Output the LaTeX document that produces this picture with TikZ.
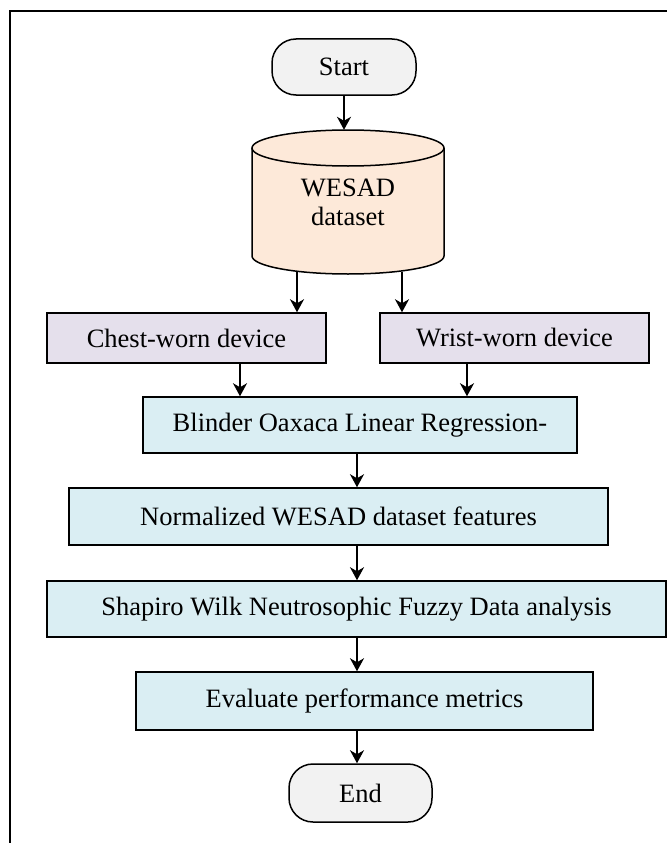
\documentclass[tikz,border=0pt]{standalone}
\usepackage{fontspec}
\setmainfont{Liberation Serif}
\usetikzlibrary{arrows.meta}
\definecolor{termfill}{HTML}{F2F2F2}
\definecolor{dbfill}{HTML}{FDE9D9}
\definecolor{devfill}{HTML}{E5E0EC}
\definecolor{procfill}{HTML}{DAEEF3}
\tikzset{
  txt/.style={font=\fontsize{26.5pt}{29pt}\selectfont, align=center, inner sep=0pt},
  terminal/.style={txt, draw, line width=1.5pt, fill=termfill, rounded corners=24pt},
  devbox/.style={txt, draw, line width=1.5pt, fill=devfill},
  procbox/.style={txt, draw, line width=1.5pt, fill=procfill},
  arr/.style={line width=1.7pt, -{Stealth[length=13pt,width=14pt,inset=4pt]}},
}
\begin{document}
\begin{tikzpicture}[x=1pt,y=-1pt]
\useasboundingbox (0,0) rectangle (667,843);
% outer frame
\draw[line width=1.5pt] (10,843) -- (10,11) -- (667,11);

% terminals
\node[terminal, minimum width=144pt, minimum height=56pt] (start) at (344,67) {Start};
\node[terminal, minimum width=143pt, minimum height=58pt] (end) at (360.5,793) {End};

% cylinder
\fill[dbfill] (252,148) -- (252,256)
  arc[start angle=180,end angle=360,x radius=96pt,y radius=18pt]
  -- (444,148)
  arc[start angle=0,end angle=180,x radius=96pt,y radius=18pt] -- cycle;
\draw[line width=1.5pt] (252,148) -- (252,256)
  arc[start angle=180,end angle=360,x radius=96pt,y radius=18pt]
  -- (444,148);
\draw[line width=1.5pt] (348,148) ellipse [x radius=96pt, y radius=18pt];
\node[txt, minimum width=192pt, minimum height=144pt] (cyl) at (348,202) {WESAD\\dataset};

% devices
\node[devbox, minimum width=279pt, minimum height=50pt] (chest) at (186.5,338) {Chest-worn device};
\node[devbox, minimum width=269pt, minimum height=50pt] (wrist) at (514.5,338) {Wrist-worn device};

% process boxes
\node[procbox, minimum width=434pt, minimum height=56pt] (blinder) at (360,425) {Blinder Oaxaca Linear Regression-};
\node[procbox, minimum width=539pt, minimum height=57pt] (norm) at (338.5,516.5) {Normalized WESAD dataset features};
\node[procbox, minimum width=619pt, minimum height=56pt] (shap) at (356.5,609) {Shapiro Wilk Neutrosophic Fuzzy Data analysis};
\node[procbox, minimum width=457pt, minimum height=58pt] (eval) at (364.5,701) {Evaluate performance metrics};

% helper coordinates
\coordinate (cylL) at (297,272);
\coordinate (cylR) at (402,272);
\coordinate (chestx) at (240,0);
\coordinate (wristx) at (467,0);
\coordinate (midx) at (357,0);

% connectors
\draw[arr] (start.south) -- (start.south |- cyl.north);
\draw[arr] (cylL) -- (cylL |- chest.north);
\draw[arr] (cylR) -- (cylR |- wrist.north);
\draw[arr] (chestx |- chest.south) -- (chestx |- blinder.north);
\draw[arr] (wristx |- wrist.south) -- (wristx |- blinder.north);
\draw[arr] (midx |- blinder.south) -- (midx |- norm.north);
\draw[arr] (midx |- norm.south) -- (midx |- shap.north);
\draw[arr] (midx |- shap.south) -- (midx |- eval.north);
\draw[arr] (midx |- eval.south) -- (midx |- end.north);
\end{tikzpicture}
\end{document}
